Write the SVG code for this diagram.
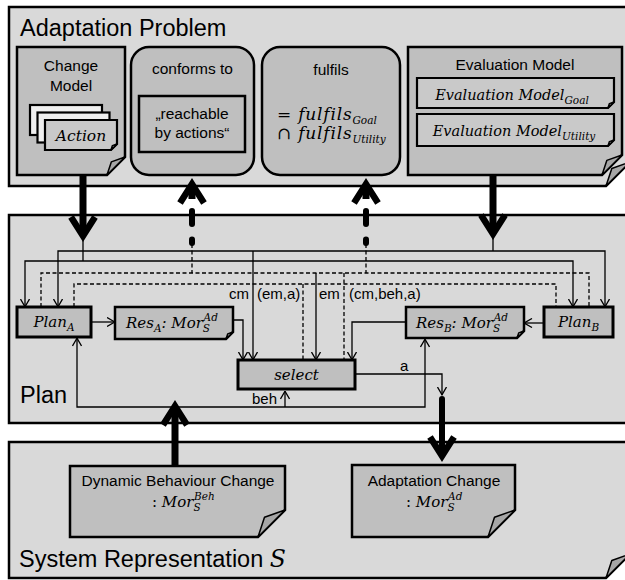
<svg xmlns="http://www.w3.org/2000/svg" width="625" height="580" viewBox="0 0 625 580">
<defs>
<style>
.panel{fill:#d9d9d9;stroke:#000;stroke-width:2.5}
.box{fill:#bfbfbf;stroke:#000;stroke-width:2.5}
.thick{stroke-width:3}
.card{fill:#c9c9c9;stroke:#000;stroke-width:2.2}
.back{fill:#efefef;stroke:#000;stroke-width:2.2}
.fold{fill:#a6a6a6;stroke:#000;stroke-width:1.5;stroke-linejoin:round}
.ln{fill:none;stroke:#000;stroke-width:1.3}
.ds{fill:none;stroke:#000;stroke-width:1.3;stroke-dasharray:4 2.5}
.shaft{fill:none;stroke:#000;stroke-width:7}
.dot{fill:none;stroke:#000;stroke-width:6;stroke-linecap:round}
.head{fill:none;stroke:#000;stroke-width:6.5;stroke-linejoin:miter;stroke-miterlimit:10}
.sans{font-family:"Liberation Sans",Arial,sans-serif;fill:#000}
.math{font-family:"DejaVu Serif",serif;font-style:italic;fill:#000}
.up{font-family:"DejaVu Serif",serif;font-style:normal}
.title{font-size:23.5px}
.lbl{font-size:15.5px}
.cl{font-size:15px}
.ss{font-size:10.5px}
</style>
<marker id="v" viewBox="0 0 9 10" refX="8.5" refY="5" markerWidth="9" markerHeight="10" markerUnits="userSpaceOnUse" orient="auto">
<path d="M0.5,0.5 L8.3,5 L0.5,9.5" fill="none" stroke="#000" stroke-width="1.3"/>
</marker>
</defs>

<!-- container panels -->
<g id="adaptation-problem">
<path class="panel" d="M9,7 H630 V162 L606,186 H9 Z"/>
<path class="fold" d="M606,186 L611.8,168.5 L630,162 Z"/>
<text class="sans title" x="20" y="36">Adaptation Problem</text>
</g>

<g id="plan">
<path class="panel" d="M9,215 H632 V423 H9 Z"/>
<text class="sans title" x="20" y="403">Plan</text>
</g>

<g id="system-representation">
<path class="panel" d="M9,442 H630 V554 L606,578 H9 Z"/>
<path class="fold" d="M606,578 L611.8,560.5 L630,554 Z"/>
<text class="sans title" x="19" y="567">System Representation <tspan class="math">S</tspan></text>
</g>

<!-- adaptation problem contents -->
<g id="change-model">
<path class="box" d="M17,47 H125 V157 L107,175 H17 Z"/>
<path class="fold" d="M107,175 L111.3,161.9 L125,157 Z"/>
<text class="sans lbl" x="71" y="71" text-anchor="middle">Change</text>
<text class="sans lbl" x="71" y="91" text-anchor="middle">Model</text>
<rect class="back" x="30" y="105" width="72" height="30"/>
<rect class="back" x="37.5" y="112.5" width="72" height="30"/>
<path class="card" d="M45,120 H117 V144 L111,150 H45 Z"/>
<path class="fold" d="M111,150 L112.4,145.6 L117,144 Z"/>
<text class="math" font-size="15.5" x="81" y="141" text-anchor="middle">Action</text>
</g>

<g id="conforms-to">
<rect class="box" x="131" y="47" width="123" height="128" rx="18"/>
<text class="sans lbl" x="192.5" y="74" text-anchor="middle">conforms to</text>
<rect class="box" x="139" y="96" width="106" height="56"/>
<text class="sans lbl" x="192" y="119" text-anchor="middle">„reachable</text>
<text class="sans lbl" x="192" y="138" text-anchor="middle">by actions“</text>
</g>

<g id="fulfils">
<rect class="box" x="262" y="47" width="138" height="128" rx="18"/>
<text class="sans lbl" x="331" y="75" text-anchor="middle">fulfils</text>
<text class="math" font-size="17" letter-spacing="0.8" x="277" y="120"><tspan class="up">= </tspan>fulfils<tspan class="ss" dy="4" letter-spacing="0">Goal</tspan></text>
<text class="math" font-size="17" letter-spacing="0.8" x="277" y="139"><tspan class="up">∩ </tspan>fulfils<tspan class="ss" dy="4" letter-spacing="0">Utility</tspan></text>
</g>

<g id="evaluation-model">
<path class="box" d="M408,47 H622 V155 L602,175 H408 Z"/>
<path class="fold" d="M602,175 L606.8,160.4 L622,155 Z"/>
<text class="sans lbl" x="515" y="70" text-anchor="middle">Evaluation Model</text>
<path class="card" d="M417,78 H614 V102 L608,108 H417 Z"/>
<path class="fold" d="M608,108 L609.4,103.6 L614,102 Z"/>
<text class="math" font-size="14.5" x="512" y="100" text-anchor="middle">Evaluation Model<tspan class="ss" dy="4">Goal</tspan></text>
<path class="card" d="M417,114 H614 V140 L608,146 H417 Z"/>
<path class="fold" d="M608,146 L609.4,141.6 L614,140 Z"/>
<text class="math" font-size="14.5" x="514" y="136" text-anchor="middle">Evaluation Model<tspan class="ss" dy="4">Utility</tspan></text>
</g>

<!-- plan contents -->
<g id="plan-a">
<rect class="box thick" x="17" y="307" width="74" height="30"/>
<text class="math" font-size="15" x="54" y="327" text-anchor="middle">Plan<tspan class="ss" dy="4">A</tspan></text>
</g>

<g id="res-a">
<path class="box" d="M115,307 H233 V332 L226,339 H115 Z"/>
<path class="fold" d="M226,339 L227.7,333.9 L233,332 Z"/>
<text class="math" font-size="15" x="126" y="328">Res<tspan class="ss" dy="4">A</tspan><tspan dy="-4">: Mor</tspan><tspan class="ss" dy="4">S</tspan><tspan class="ss" dx="-6.5" dy="-11">Ad</tspan></text>
</g>

<g id="select">
<rect class="box thick" x="238" y="360" width="117" height="29"/>
<text class="math" font-size="15" x="296.5" y="380" text-anchor="middle">select</text>
</g>

<g id="res-b">
<path class="box" d="M406,307 H524 V331 L517,338 H406 Z"/>
<path class="fold" d="M517,338 L518.7,332.9 L524,331 Z"/>
<text class="math" font-size="15" x="416" y="328">Res<tspan class="ss" dy="4">B</tspan><tspan dy="-4">: Mor</tspan><tspan class="ss" dy="4">S</tspan><tspan class="ss" dx="-6.5" dy="-11">Ad</tspan></text>
</g>

<g id="plan-b">
<rect class="box thick" x="544" y="307" width="69" height="30"/>
<text class="math" font-size="15" x="578.5" y="327" text-anchor="middle">Plan<tspan class="ss" dy="4">B</tspan></text>
</g>

<!-- system representation contents -->
<g id="dynamic-behaviour-change">
<path class="box" d="M70,466 H285 V510 L258,537 H70 Z"/>
<path class="fold" d="M258,537 L264.5,517.3 L285,510 Z"/>
<text class="sans lbl" x="178" y="486" text-anchor="middle">Dynamic Behaviour Change</text>
<text class="math" font-size="15" x="152" y="507"><tspan class="up">: </tspan>Mor<tspan class="ss" dy="4">S</tspan><tspan class="ss" dx="-6.5" dy="-11">Beh</tspan></text>
</g>

<g id="adaptation-change">
<path class="box" d="M352,465 H515 V510 L488,537 H352 Z"/>
<path class="fold" d="M488,537 L494.5,517.3 L515,510 Z"/>
<text class="sans lbl" x="434" y="486" text-anchor="middle">Adaptation Change</text>
<text class="math" font-size="15" x="406" y="507"><tspan class="up">: </tspan>Mor<tspan class="ss" dy="4">S</tspan><tspan class="ss" dx="-6.5" dy="-11">Ad</tspan></text>
</g>

<!-- connectors -->
<g id="connectors">
<!-- change model bus -->
<path class="ln" d="M83,238 V261"/>
<path class="ln" marker-end="url(#v)" d="M83,261 H25 V307"/>
<path class="ln" marker-end="url(#v)" d="M83,261 H573 V307"/>
<!-- evaluation model bus -->
<path class="ln" d="M493,236 V251"/>
<path class="ln" marker-end="url(#v)" d="M493,251 H58 V307"/>
<path class="ln" marker-end="url(#v)" d="M493,251 H605 V307"/>
<path class="ln" marker-end="url(#v)" d="M253,251 V360"/>
<path class="ln" marker-end="url(#v)" d="M316,273 V360"/>
<!-- conformance / fulfilment feedback -->
<path class="ds" d="M41,307 V273 H589 V307"/>
<path class="ds" d="M192,244 V273"/>
<path class="ds" d="M366,244 V273"/>
<path class="ds" d="M344,273 V360"/>
<path class="ds" d="M74,307 V284 H556 V307"/>
<path class="ds" d="M303,284 V360"/>
<!-- plan results -->
<path class="ln" marker-end="url(#v)" d="M91,322 H115"/>
<path class="ln" marker-end="url(#v)" d="M544,323 H524"/>
<path class="ln" marker-end="url(#v)" d="M233,320 H243 V360"/>
<path class="ln" marker-end="url(#v)" d="M406,322 H352 V360"/>
<path class="ln" marker-end="url(#v)" d="M355,374 H442 V395"/>
<!-- behaviour feedback -->
<path class="ln" marker-end="url(#v)" d="M175,407 H77 V338"/>
<path class="ln" marker-end="url(#v)" d="M175,407 H425 V339"/>
<path class="ln" marker-end="url(#v)" d="M285,407 V391"/>
<!-- labels -->
<text class="sans cl" x="249" y="299" text-anchor="end">cm</text>
<text class="sans cl" x="257" y="299">(em,a)</text>
<text class="sans cl" x="319" y="299">em</text>
<text class="sans cl" x="349" y="299">(cm,beh,a)</text>
<text class="sans cl" x="252" y="404">beh</text>
<text class="sans cl" x="400" y="371">a</text>
<!-- change model to plan -->
<path class="shaft" d="M83,175 V232"/>
<path class="head" d="M71,217 L83,236 L95,217"/>
<!-- evaluation model to plan -->
<path class="shaft" d="M493,175 V230"/>
<path class="head" d="M481,215 L493,234 L505,215"/>
<!-- plan to conforms to -->
<path class="dot" d="M192,239.5 V243"/>
<path class="dot" d="M192,211 V224"/>
<path class="head" d="M180,203 L192,184 L204,203"/>
<path class="shaft" d="M192,188 V199"/>
<!-- plan to fulfils -->
<path class="dot" d="M366,239.5 V243"/>
<path class="dot" d="M366,211 V224"/>
<path class="head" d="M354,203 L366,184 L378,203"/>
<path class="shaft" d="M366,188 V199"/>
<!-- dynamic behaviour change to plan -->
<path class="shaft" d="M175,466 V410"/>
<path class="head" d="M163,425 L175,406 L187,425"/>
<!-- select to adaptation change -->
<path class="dot" d="M442,399 V452"/>
<path class="head" d="M430,437 L442,456 L454,437"/>
</g>
</svg>
